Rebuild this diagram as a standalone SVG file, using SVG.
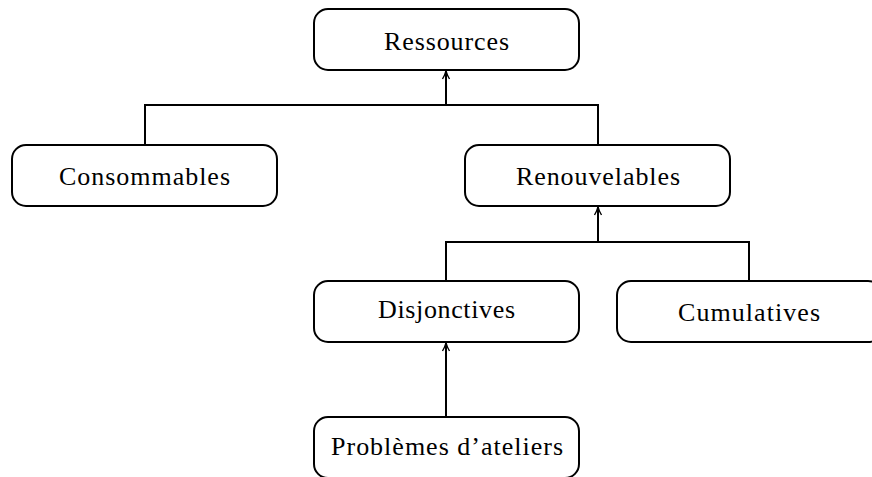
<svg xmlns="http://www.w3.org/2000/svg" width="872" height="477" viewBox="0 0 872 477">
<defs>
<style>
.box{fill:#fff;stroke:#000;stroke-width:2}
.t{font-family:"Liberation Serif","DejaVu Serif",serif;font-size:26px;fill:#000;text-anchor:middle}
.c{fill:none;stroke:#000;stroke-width:2}
</style>
<marker id="ah" viewBox="0 0 10 10" refX="9" refY="5" markerWidth="10" markerHeight="10" markerUnits="userSpaceOnUse" orient="auto">
<path d="M1,1.5 Q5,4 9,5 Q5,6 1,8.5" fill="none" stroke="#000" stroke-width="1.4"/>
</marker>
</defs>
<g id="connectors">
<path class="c" d="M145,145 V105 H598 V145"/>
<path class="c" d="M446,105 V71" marker-end="url(#ah)"/>
<path class="c" d="M446,281 V242 H749 V281"/>
<path class="c" d="M598,242 V207" marker-end="url(#ah)"/>
<path class="c" d="M446,417 V343" marker-end="url(#ah)"/>
</g>
<g id="ressources">
<rect class="box" x="314" y="9" width="265" height="61" rx="14"/>
<text class="t" x="446.5" y="50" textLength="125">Ressources</text>
</g>
<g id="consommables">
<rect class="box" x="12" y="145" width="265" height="61" rx="14"/>
<text class="t" x="144.5" y="185" textLength="171">Consommables</text>
</g>
<g id="renouvelables">
<rect class="box" x="465" y="145" width="265" height="61" rx="14"/>
<text class="t" x="598" y="185" textLength="164">Renouvelables</text>
</g>
<g id="disjonctives">
<rect class="box" x="314" y="281" width="265" height="61" rx="14"/>
<text class="t" x="446.5" y="318" textLength="137">Disjonctives</text>
</g>
<g id="cumulatives">
<rect class="box" x="617" y="281" width="265" height="61" rx="14"/>
<text class="t" x="749" y="321" textLength="142">Cumulatives</text>
</g>
<g id="problemes">
<rect class="box" x="314" y="417" width="265" height="61" rx="14"/>
<text class="t" x="447" y="455" textLength="232">Problèmes d’ateliers</text>
</g>
</svg>
